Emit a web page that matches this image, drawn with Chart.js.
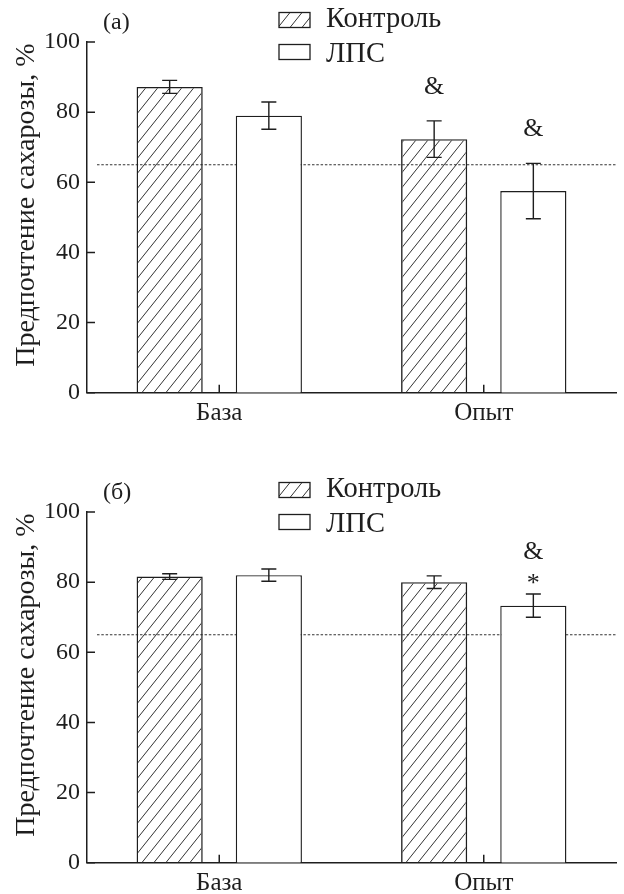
<!DOCTYPE html>
<html>
<head>
<meta charset="utf-8">
<script src="https://cdn.jsdelivr.net/npm/chart.js@4.4.0/dist/chart.umd.min.js"></script>
<style>
  html, body { margin: 0; padding: 0; background: #fff; overflow: hidden; }
  canvas { display: block; }
</style>
</head>
<body>
<canvas id="chartA" width="624" height="470"></canvas>
<canvas id="chartB" width="624" height="470"></canvas>
<script>
// data
const categories = ["База", "Опыт"];
const seriesLabels = ["Контроль", "ЛПС"];
const yTicks = [0, 20, 40, 60, 80, 100];
const yTitle = "Предпочтение сахарозы, %";
const threshold = 65;

// panel (а)
const controlA = [87.2, 72.3];
const controlErrA = [1.85, 5.2];
const lpsA = [79.0, 57.5];
const lpsErrA = [3.9, 7.9];
const controlMarksA = [[], ["&"]];
const lpsMarksA = [[], ["&"]];

// panel (б)
const controlB = [81.6, 80.0];
const controlErrB = [0.8, 1.8];
const lpsB = [82.0, 73.3];
const lpsErrB = [1.75, 3.3];
const controlMarksB = [[], []];
const lpsMarksB = [[], ["*", "&"]];

const FONT = "'Liberation Serif', 'Times New Roman', serif";
const INK = "#1e1e1e";

Chart.defaults.font.family = FONT;
Chart.defaults.color = INK;

// diagonal hatch used by the control bars
function makeHatch() {
  const w = 12, h = 15;
  const c = document.createElement("canvas");
  c.width = w;
  c.height = h;
  const g = c.getContext("2d");
  g.strokeStyle = "#333";
  g.lineWidth = 1;
  for (let k = -1; k <= 1; k++) {
    g.beginPath();
    g.moveTo(k * w, h);
    g.lineTo(k * w + w, 0);
    g.stroke();
  }
  return document.getElementById("chartA").getContext("2d").createPattern(c, "repeat");
}
const hatch = makeHatch();

const panelPlugin = {
  id: "panelExtras",
  beforeDatasetsDraw(chart) {
    // dotted reference line
    const ctx = chart.ctx;
    const y = chart.scales.y.getPixelForValue(threshold);
    ctx.save();
    ctx.strokeStyle = "#333";
    ctx.lineWidth = 1.2;
    ctx.setLineDash([2.5, 1.8]);
    ctx.beginPath();
    ctx.moveTo(chart.chartArea.left + 10, y);
    ctx.lineTo(chart.chartArea.right, y);
    ctx.stroke();
    ctx.restore();
  },
  afterDatasetsDraw(chart) {
    const ctx = chart.ctx;
    const yScale = chart.scales.y;
    ctx.save();
    chart.data.datasets.forEach((ds, di) => {
      const meta = chart.getDatasetMeta(di);
      meta.data.forEach((bar, i) => {
        const v = ds.data[i];
        const e = ds.errors[i];
        const yTop = yScale.getPixelForValue(v + e);
        const yBot = yScale.getPixelForValue(v - e);
        ctx.strokeStyle = INK;
        ctx.lineWidth = 1.4;
        ctx.beginPath();
        ctx.moveTo(bar.x, yTop);
        ctx.lineTo(bar.x, yBot);
        ctx.moveTo(bar.x - 7.5, yTop);
        ctx.lineTo(bar.x + 7.5, yTop);
        ctx.moveTo(bar.x - 7.5, yBot);
        ctx.lineTo(bar.x + 7.5, yBot);
        ctx.stroke();

        // significance marks, stacked upwards
        let off = 0;
        ds.marks[i].forEach((m, k) => {
          if (k === 0) off = m === "*" ? 14 : 34;
          else off += 28;
          ctx.fillStyle = INK;
          ctx.font = "26px " + FONT;
          ctx.textAlign = "center";
          ctx.textBaseline = "middle";
          ctx.fillText(m, bar.x, yTop - off + (m === "*" ? 4 : 0));
        });
      });
    });
    ctx.restore();
  },
  afterDraw(chart) {
    const ctx = chart.ctx;
    const area = chart.chartArea;
    const xs = chart.scales.x;
    const ys = chart.scales.y;
    ctx.save();
    ctx.strokeStyle = INK;
    ctx.lineWidth = 1.5;
    // inward ticks
    ctx.beginPath();
    yTicks.forEach((t) => {
      const y = ys.getPixelForValue(t);
      ctx.moveTo(area.left, y);
      ctx.lineTo(area.left + 8, y);
    });
    categories.forEach((c, i) => {
      const x = xs.getPixelForValue(i);
      ctx.moveTo(x, area.bottom);
      ctx.lineTo(x, area.bottom - 8);
    });
    ctx.stroke();

    // legend
    ctx.lineWidth = 1.3;
    chart.data.datasets.forEach((ds, i) => {
      const top = 12.5 + i * 32;
      ctx.fillStyle = ds.backgroundColor;
      ctx.fillRect(279, top, 31, 15);
      ctx.strokeRect(279, top, 31, 15);
      ctx.fillStyle = INK;
      ctx.font = "28.5px " + FONT;
      ctx.textAlign = "left";
      ctx.textBaseline = "alphabetic";
      ctx.fillText(ds.label, 326, 27 + i * 34.5);
    });

    // panel letter
    ctx.font = "24px " + FONT;
    ctx.fillText(chart.options.plugins.panelExtras.letter, 103, 29);

    // y axis title
    ctx.translate(33.5, 205);
    ctx.rotate(-Math.PI / 2);
    ctx.font = "28px " + FONT;
    ctx.textAlign = "center";
    ctx.textBaseline = "alphabetic";
    ctx.fillText(yTitle, 0, 0);
    ctx.restore();
  },
};

function makePanel(id, letter, control, controlErr, lps, lpsErr, controlMarks, lpsMarks) {
  const ctx = document.getElementById(id).getContext("2d");
  return new Chart(ctx, {
    type: "bar",
    data: {
      labels: categories,
      datasets: [
        {
          label: seriesLabels[0],
          data: control,
          errors: controlErr,
          marks: controlMarks,
          backgroundColor: hatch,
          borderColor: INK,
          borderWidth: 1.4,
        },
        {
          label: seriesLabels[1],
          data: lps,
          errors: lpsErr,
          marks: lpsMarks,
          backgroundColor: "#fff",
          borderColor: INK,
          borderWidth: 1.4,
        },
      ],
    },
    options: {
      responsive: false,
      animation: false,
      events: [],
      categoryPercentage: 0.75,
      barPercentage: 0.667,
      layout: { padding: { top: 42, right: 8, left: 0, bottom: 0 } },
      plugins: {
        legend: { display: false },
        tooltip: { enabled: false },
        panelExtras: { letter: letter },
      },
      scales: {
        x: {
          offset: true,
          grid: { display: false, drawTicks: false },
          border: { color: INK, width: 1.5 },
          ticks: { font: { size: 25 }, color: INK, padding: 6 },
          afterFit: (s) => { s.height = 77.3; },
        },
        y: {
          min: 0,
          max: 100,
          grid: { display: false, drawTicks: false },
          border: { color: INK, width: 1.5 },
          ticks: { stepSize: 20, font: { size: 24 }, color: INK, padding: 7 },
          afterFit: (s) => { s.width = 87; },
        },
      },
    },
    plugins: [panelPlugin],
  });
}

makePanel("chartA", "(а)", controlA, controlErrA, lpsA, lpsErrA, controlMarksA, lpsMarksA);
makePanel("chartB", "(б)", controlB, controlErrB, lpsB, lpsErrB, controlMarksB, lpsMarksB);
</script>
</body>
</html>
